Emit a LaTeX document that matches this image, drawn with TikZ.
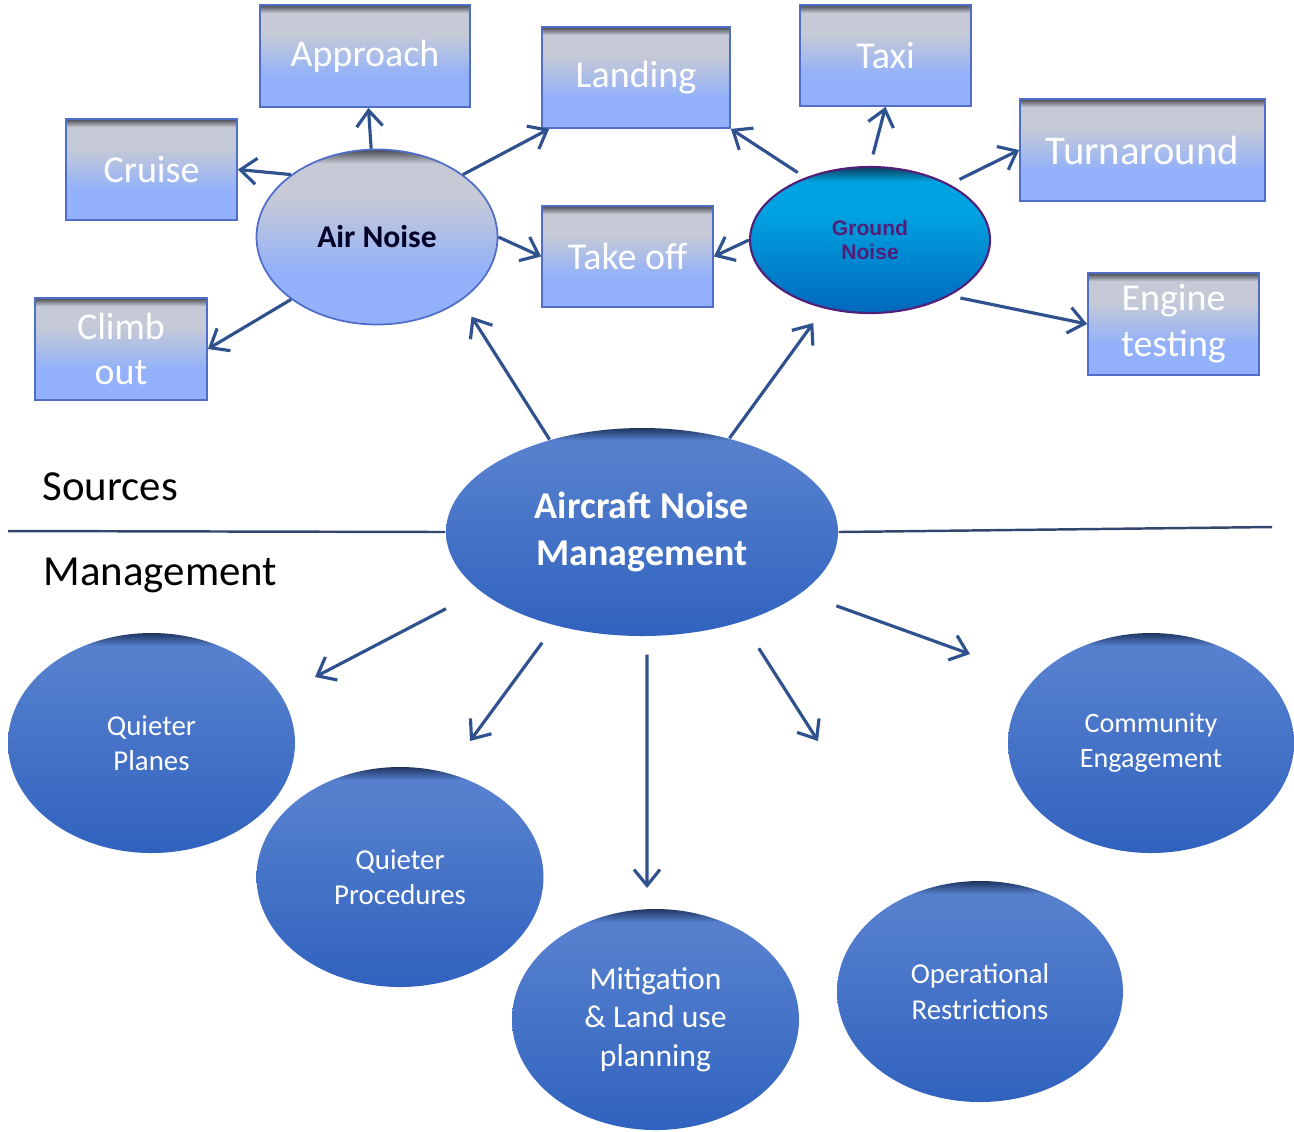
\documentclass[tikz,border=0pt]{standalone}
\usepackage{fontspec}
\setmainfont{Carlito}
\newfontfamily\arialfont{Liberation Sans}
\usepackage{tikz}
\usetikzlibrary{shapes.geometric, arrows.meta, positioning, calc}
\usepackage{xcolor}

\definecolor{arrowblue}{RGB}{47,82,143}
\definecolor{linegray}{RGB}{50,70,110}
\definecolor{boxlow}{RGB}{146,177,250}
\definecolor{boxhigh}{RGB}{198,202,214}
\definecolor{boxedge}{RGB}{70,72,78}
\definecolor{boxline}{RGB}{80,110,200}
\definecolor{gndlow}{RGB}{0,104,188}
\definecolor{gndhigh}{RGB}{0,163,226}
\definecolor{gndedge}{RGB}{12,60,92}
\definecolor{gndtext}{RGB}{82,30,120}
\definecolor{mgtlow}{RGB}{48,98,190}
\definecolor{mgthigh}{RGB}{86,128,206}
\definecolor{mgtedge}{RGB}{32,52,96}

\pgfdeclareverticalshading{boxshade}{100bp}{color(0bp)=(boxlow); color(25bp)=(boxlow); color(40bp)=(boxlow); color(61bp)=(boxhigh); color(71bp)=(boxhigh); color(75bp)=(boxedge); color(100bp)=(boxedge)}
\pgfdeclareverticalshading{gndshade}{100bp}{color(0bp)=(gndlow); color(25bp)=(gndlow); color(60bp)=(gndhigh); color(70bp)=(gndhigh); color(75bp)=(gndedge); color(100bp)=(gndedge)}
\pgfdeclareverticalshading{mgtshade}{100bp}{color(0bp)=(mgtlow); color(25bp)=(mgtlow); color(69bp)=(mgthigh); color(72bp)=(mgthigh); color(75bp)=(mgtedge); color(100bp)=(mgtedge)}

\tikzset{
  srcbox/.style={rectangle, shade, shading=boxshade, draw=boxline, line width=0.5pt,
    minimum width=1.71cm, minimum height=1.01cm, inner sep=0pt, align=center,
    text=white, font=\fontsize{10.8}{13}\selectfont},
  airoval/.style={ellipse, shade, shading=boxshade, draw=boxline, line width=0.5pt,
    inner sep=0pt, font=\bfseries\fontsize{9}{11}\selectfont, text=black!85!blue},
  gndoval/.style={ellipse, shade, shading=gndshade, draw=gndtext, line width=0.6pt,
    inner sep=0pt, align=center, text=gndtext, font=\arialfont\bfseries\fontsize{6}{7}\selectfont},
  mgtoval/.style={ellipse, shade, shading=mgtshade, draw=none, inner sep=0pt,
    minimum width=2.87cm, minimum height=2.20cm, align=center, text=white,
    font=\fontsize{8.2}{10}\selectfont},
  arr/.style={-{Straight Barb[length=1.6mm,width=2.6mm]}, line width=0.9pt, draw=arrowblue},
  sepline/.style={line width=0.7pt, draw=linegray},
  sidelabel/.style={anchor=base west, inner sep=0pt, font=\fontsize{12.2}{14}\selectfont}
}

\begin{document}
\begin{tikzpicture}
\useasboundingbox (0,0) rectangle (12.94,-11.31);

% sources
\node[srcbox, minimum width=2.10cm, minimum height=1.02cm] (apr) at (3.65,-0.56) {Approach};
\node[srcbox, minimum width=1.88cm] (lan) at (6.36,-0.775) {Landing};
\node[srcbox] (tax) at (8.855,-0.555) {Taxi};
\node[srcbox] (cru) at (1.515,-1.695) {Cruise};
\node[srcbox, minimum width=2.45cm, minimum height=1.02cm, font=\fontsize{11.6}{13}\selectfont] (tur) at (11.425,-1.50) {Turnaround};
\node[srcbox] (tko) at (6.275,-2.565) {Take off};
\node[srcbox, minimum width=1.72cm, minimum height=1.02cm] (clm) at (1.21,-3.49) {Climb\\out};
\node[srcbox, minimum height=1.02cm] (eng) at (11.735,-3.24) {Engine\\testing};

\node[airoval, minimum width=2.41cm, minimum height=1.75cm] (air) at (3.77,-2.37) {Air Noise};
\node[gndoval, minimum width=2.40cm, minimum height=1.46cm] (gnd) at (8.70,-2.40) {Ground\\Noise};

% centre
\node[mgtoval, minimum width=3.92cm, minimum height=2.08cm,
  font=\bfseries\fontsize{10.8}{13.2}\selectfont] (anm) at (6.42,-5.32) {Aircraft Noise\\Management};

\coordinate (sepl) at (0.08,-5.31);
\coordinate (sepr) at (12.72,-5.27);
\draw[sepline] (sepl) -- (anm.west);
\draw[sepline] (anm.east) -- (sepr);
\node[sidelabel] (src) at (0.42,-5.00) {Sources};
\node[sidelabel] (mgt) at (0.43,-5.85) {Management};

% management
\node[mgtoval] (qpl) at (1.515,-7.43) {Quieter\\Planes};
\node[mgtoval] (qpr) at (4.00,-8.77) {Quieter\\Procedures};
\node[mgtoval, minimum height=2.21cm, font=\fontsize{9}{11}\selectfont] (mit) at (6.555,-10.195) {Mitigation\\\& Land use\\planning};
\node[mgtoval, minimum width=2.86cm, minimum height=2.21cm] (ops) at (9.80,-9.915) {Operational\\Restrictions};
\node[mgtoval, minimum width=2.86cm, font=\fontsize{8}{10}\selectfont] (com) at (11.51,-7.43) {Community\\Engagement};

\coordinate (tqpl) at (3.15,-6.77);
\coordinate (tqpr) at (4.70,-7.41);
\coordinate (tmit) at (6.47,-8.88);
\coordinate (tops) at (8.18,-7.41);
\coordinate (tcom) at (9.70,-6.54);

% arrows
\draw[arr] (air) -- (apr);
\draw[arr] (air.144) -- (cru.east);
\draw[arr] (air.36) -- ([xshift=0.08cm]lan.south west);
\draw[arr] (air.east) -- (tko.west);
\draw[arr] (air.216) -- (clm.east);
\draw[arr, shorten <=0.09cm] (gnd.136) -- (lan.south east);
\draw[arr, shorten <=0.12cm] (gnd.north) -- (tax.south);
\draw[arr, shorten <=0.11cm] (gnd.35.5) -- (tur.west);
\draw[arr] (gnd.west) -- (tko.east);
\draw[arr, shorten <=0.11cm] (gnd.-35.5) -- (eng.west);
\draw[arr, shorten >=0.19cm] (anm.135) -- (air.-37);
\draw[arr, shorten >=0.18cm] (anm.47) -- (gnd.236.5);
\draw[arr, shorten <=0.38cm] (anm.200) -- (tqpl);
\draw[arr, shorten <=0.21cm] (anm.227) -- (tqpr);
\draw[arr, shorten <=0.18cm] ([xshift=0.05cm]anm.south) -- (tmit);
\draw[arr, shorten <=0.31cm] (anm.318) -- (tops);
\draw[arr, shorten <=0.37cm] (anm.339.5) -- (tcom);
\end{tikzpicture}
\end{document}
